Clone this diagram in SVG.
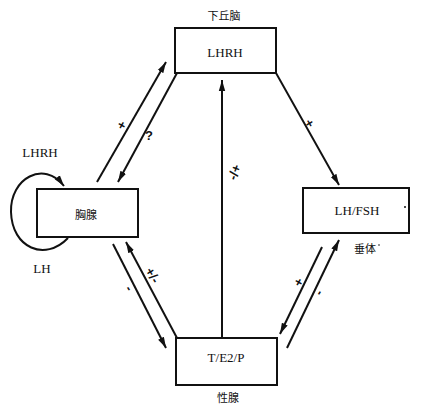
<svg xmlns="http://www.w3.org/2000/svg" width="423" height="406" viewBox="0 0 423 406">
<style>
.box{fill:#fff;stroke:#111;stroke-width:2}
.ln{stroke:#111;stroke-width:2;fill:none}
.lb{font-family:"Liberation Serif",serif;font-size:13px;fill:#111;text-anchor:middle}
.cj{font-family:"Noto Sans CJK SC",sans-serif;font-size:11px;fill:#111;text-anchor:middle}
.sg{font-family:"Liberation Sans",sans-serif;font-size:13px;font-weight:bold;fill:#111;text-anchor:middle}
</style>
<defs>
<marker id="ah" markerUnits="userSpaceOnUse" markerWidth="12" markerHeight="8" refX="11" refY="4" orient="auto">
<path d="M0,0.8 L11,4 L0,7.2 z" fill="#111"/>
</marker>
</defs>
<rect width="423" height="406" fill="#fff"/>
<g id="connectors">
<line class="ln" x1="97" y1="182" x2="166" y2="62" marker-end="url(#ah)"/>
<line class="ln" x1="177" y1="73" x2="118" y2="182" marker-end="url(#ah)"/>
<line class="ln" x1="276" y1="73" x2="339" y2="185" marker-end="url(#ah)"/>
<line class="ln" x1="222" y1="338" x2="222" y2="80" marker-end="url(#ah)"/>
<line class="ln" x1="113" y1="244" x2="166" y2="348" marker-end="url(#ah)"/>
<line class="ln" x1="177" y1="338" x2="126" y2="242" marker-end="url(#ah)"/>
<line class="ln" x1="322" y1="247" x2="280" y2="334" marker-end="url(#ah)"/>
<line class="ln" x1="287" y1="348" x2="339" y2="240" marker-end="url(#ah)"/>
<path class="ln" d="M68 238 C45 262 12 248 11 212 C10 178 44 160 64 186" marker-end="url(#ah)"/>
<text class="sg" x="121" y="130" transform="rotate(-60 121 125)">+</text>
<text class="sg" x="149" y="140" font-weight="normal">?</text>
<text class="sg" x="310" y="128" transform="rotate(60 310 123)">+</text>
<text class="sg" x="234" y="177" transform="rotate(-70 234 172)">-/+</text>
<text class="sg" x="130" y="293" transform="rotate(60 130 288)">-</text>
<text class="sg" x="153" y="280" transform="rotate(60 153 275)">+/-</text>
<text class="sg" x="298" y="287" transform="rotate(-60 298 282)">+</text>
<text class="sg" x="318" y="297" transform="rotate(-60 318 292)">-</text>
</g>
<g id="hypothalamus">
<rect class="box" x="175" y="28" width="101" height="45"/>
<text class="lb" x="225" y="57">LHRH</text>
<text class="cj" x="224" y="20">下丘脑</text>
</g>
<g id="thymus">
<rect class="box" x="37" y="189" width="101" height="48"/>
<text class="cj" x="86" y="219">胸腺</text>
<text class="lb" x="40" y="157">LHRH</text>
<text class="lb" x="42" y="273">LH</text>
</g>
<g id="pituitary">
<rect class="box" x="303" y="188" width="106" height="45"/>
<text class="lb" x="357" y="215">LH/FSH</text>
<circle cx="405" cy="207" r="1" fill="#111"/>
<text class="cj" x="365" y="253">垂体</text>
<circle cx="379" cy="245" r="0.8" fill="#111"/>
</g>
<g id="gonad">
<rect class="box" x="176" y="338" width="101" height="47"/>
<text class="lb" x="226" y="362">T/E2/P</text>
<text class="cj" x="228" y="402">性腺</text>
</g>
</svg>
